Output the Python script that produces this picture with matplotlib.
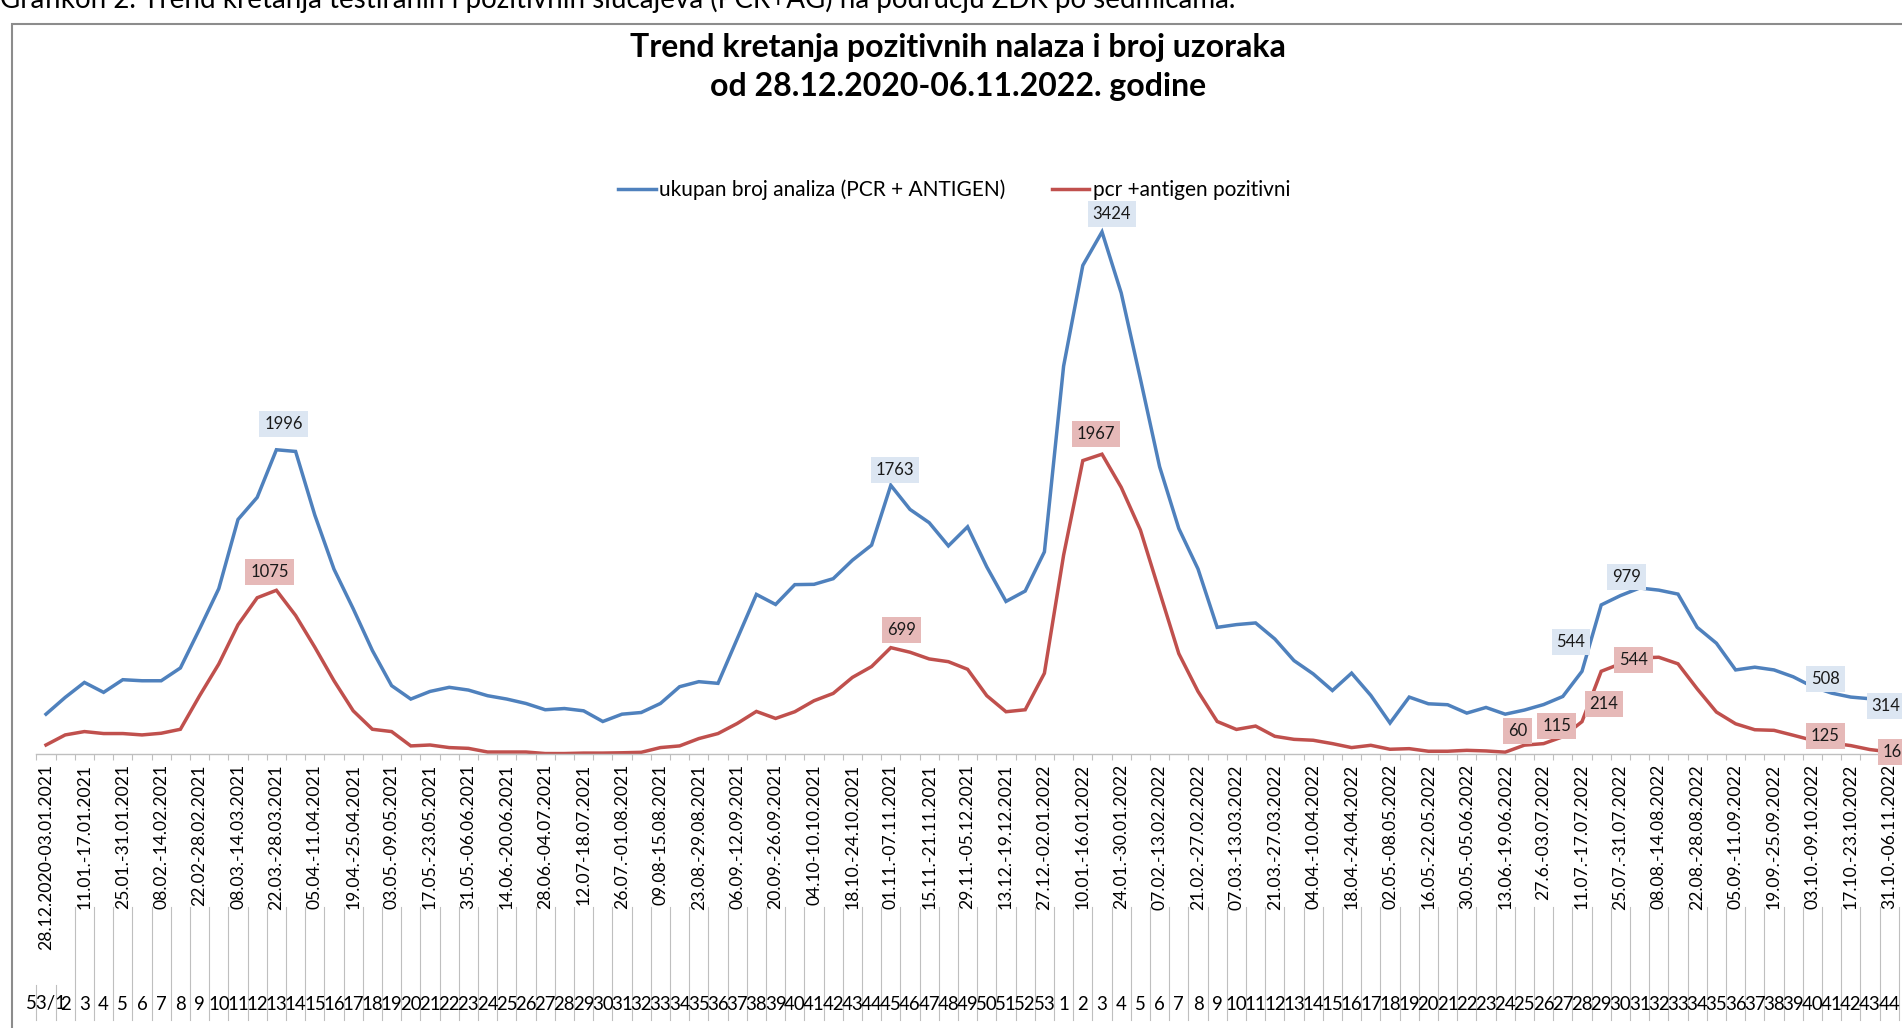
import matplotlib.pyplot as plt
import numpy as np
from matplotlib.patches import Rectangle
from matplotlib.transforms import blended_transform_factory

plt.rcParams['font.family'] = ['Lato', 'DejaVu Sans']

W, H = 1902, 1028

# -------------------------------------------------------
# Data (weekly)
# -------------------------------------------------------
weeks = ["53/1"] + [str(i) for i in range(2, 54)] + [str(i) for i in range(1, 45)]

date_labels = [
    "28.12.2020-03.01.2021", "11.01.-17.01.2021", "25.01.-31.01.2021",
    "08.02.-14.02.2021", "22.02-28.02.2021", "08.03.-14.03.2021",
    "22.03.-28.03.2021", "05.04.-11.04.2021", "19.04.-25.04.2021",
    "03.05.-09.05.2021", "17.05.-23.05.2021", "31.05.-06.06.2021",
    "14.06.-20.06.2021", "28.06.-04.07.2021", "12.07-18.07.2021",
    "26.07.-01.08.2021", "09.08-15.08.2021", "23.08.-29.08.2021",
    "06.09.-12.09.2021", "20.09.-26.09.2021", "04.10-10.10.2021",
    "18.10.-24.10.2021", "01.11.-07.11.2021", "15.11.-21.11.2021",
    "29.11.-05.12.2021", "13.12.-19.12.2021", "27.12.-02.01.2022",
    "10.01.-16.01.2022", "24.01.-30.01.2022", "07.02.-13.02.2022",
    "21.02.-27.02.2022", "07.03.-13.03.2022", "21.03.-27.03.2022",
    "04.04.-10.04.2022", "18.04.-24.04.2022", "02.05.-08.05.2022",
    "16.05.-22.05.2022", "30.05.-05.06.2022", "13.06.-19.06.2022",
    "27.6.-03.07.2022", "11.07.-17.07.2022", "25.07.-31.07.2022",
    "08.08.-14.08.2022", "22.08.-28.08.2022", "05.09.-11.09.2022",
    "19.09.-25.09.2022", "03.10.-09.10.2022", "17.10.-23.10.2022",
    "31.10.-06.11.2022",
]

total_tests = [
    263, 373, 471, 406, 489, 482, 482, 566, 822, 1086,
    1539, 1684, 1996, 1985, 1568, 1213, 954, 680, 450, 362,
    412, 439, 421, 384, 362, 333, 292, 300, 285, 215,
    263, 274, 333, 443, 476, 465, 757, 1048, 982, 1112,
    1114, 1151, 1272, 1371, 1763, 1605, 1518, 1366, 1491, 1228,
    1002, 1070, 1327, 2544, 3204, 3424, 3024, 2460, 1885, 1480,
    1215, 832, 850, 861, 756, 614, 527, 418, 532, 386,
    205, 375, 331, 325, 270, 307, 263, 290, 326, 379,
    544, 979, 1040, 1090, 1076, 1050, 832, 728, 553, 571,
    553, 508, 444, 401, 375, 364, 314,
]

positives = [
    61, 127, 149, 136, 136, 127, 138, 164, 384, 592,
    849, 1026, 1075, 910, 702, 482, 285, 164, 149, 55,
    61, 44, 39, 15, 15, 15, 5, 5, 8, 8,
    10, 13, 44, 55, 103, 136, 202, 281, 235, 279,
    351, 399, 504, 575, 699, 669, 625, 607, 557, 384,
    279, 292, 531, 1305, 1925, 1967, 1750, 1470, 1064, 660,
    412, 215, 163, 185, 118, 98, 92, 70, 44, 59,
    33, 37, 20, 20, 26, 22, 14, 60, 70, 115,
    214, 544, 593, 632, 636, 593, 429, 277, 200, 161,
    157, 125, 92, 74, 57, 31, 16,
]

# labelled points: (week index, offset x px, offset y px)
blue_labels = [(12, 7, 26), (44, 4, 15), (55, 10, 18), (80, -11, 29),
               (81, 25, 28), (91, 32, -2), (96, -3, 0)]
red_labels = [(12, -7, 18), (44, 11, 18), (55, -6, 20), (77, -7, 14),
              (79, -6, 11), (80, 22, 18), (81, 32, 11), (91, 32, -1),
              (96, 3, 0)]

BLUE = "#4F81BD"
RED = "#C0504D"
GRID = "#BFBFBF"

x = np.arange(len(weeks))

# -------------------------------------------------------
# Plot
# -------------------------------------------------------
fig = plt.figure(figsize=(W / 100, H / 100), dpi=100)
ax = fig.add_axes([36.4 / W, (H - 754.3) / H, 1862.4 / W, 610.3 / H])

l1, = ax.plot(x, total_tests, color=BLUE, lw=2.5, solid_joinstyle="miter",
              label="ukupan broj analiza (PCR + ANTIGEN)")
l2, = ax.plot(x, positives, color=RED, lw=2.5, solid_joinstyle="miter",
              label="pcr +antigen pozitivni")

ax.set_xlim(-0.5, len(weeks) - 0.5)
ax.set_ylim(0, 4000)
for s in ["top", "right", "left"]:
    ax.spines[s].set_visible(False)
ax.spines["bottom"].set_color(GRID)
ax.spines["bottom"].set_linewidth(1.0)
ax.set_yticks([])

ax.set_xticks(x[::2])
ax.set_xticklabels(date_labels, rotation=90, fontsize=12.6)
ax.tick_params(axis="x", which="major", length=0, pad=7)
ax.set_xticks(np.arange(-0.5, len(weeks), 1), minor=True)
ax.tick_params(axis="x", which="minor", length=4.3, width=0.8, color=GRID)

# week numbers row + separators
tr = blended_transform_factory(ax.transData, fig.transFigure)
yw = 1 - 1004 / H
for i, w in enumerate(weeks):
    ax.text(i, yw, w, transform=tr, ha="center", va="center", fontsize=13.4,
            clip_on=False)
for b in np.arange(-0.5, len(weeks), 1):
    top = 985 if b < 1 else 907
    ax.plot([b, b], [1 - top / H, 1 - 1020 / H], transform=tr, color=GRID,
            lw=0.8, clip_on=False)


def put_labels(vals, items, face):
    for i, dx, dy in items:
        ax.annotate(str(vals[i]), (i, vals[i]), xytext=(dx * 0.72, dy * 0.72),
                    textcoords="offset points", ha="center", va="center",
                    fontsize=12, color="#1a1a1a", annotation_clip=False,
                    bbox=dict(boxstyle="square,pad=0.3", fc=face, ec="none"))


put_labels(total_tests, blue_labels, "#DCE6F2")
put_labels(positives, red_labels, "#E6B9B8")

# title and legend
fig.text(958 / W, 1 - 57 / H, "Trend kretanja pozitivnih nalaza i broj uzoraka",
         ha="center", va="baseline", fontsize=23, fontweight="bold")
fig.text(958 / W, 1 - 96 / H, "od 28.12.2020-06.11.2022. godine",
         ha="center", va="baseline", fontsize=23, fontweight="bold")
fig.legend(handles=[l1, l2], loc="center", bbox_to_anchor=(954 / W, 1 - 190 / H),
           ncol=2, frameon=False, fontsize=15, handlelength=1.8,
           handletextpad=0.15, columnspacing=2.25)

# cropped page caption and chart frame
fig.text(0, 1 - 8 / H,
         "Grafikon 2. Trend kretanja testiranih i pozitivnih slučajeva (PCR+AG) "
         "na području ZDK po sedmicama.", ha="left", va="baseline", fontsize=20)
fig.add_artist(Rectangle((12 / W, -0.1), 2, (H - 24) / H + 0.1,
                         transform=fig.transFigure, fill=False, ec="#8C8C8C", lw=1.5))

fig.savefig("out.png", dpi=100)
